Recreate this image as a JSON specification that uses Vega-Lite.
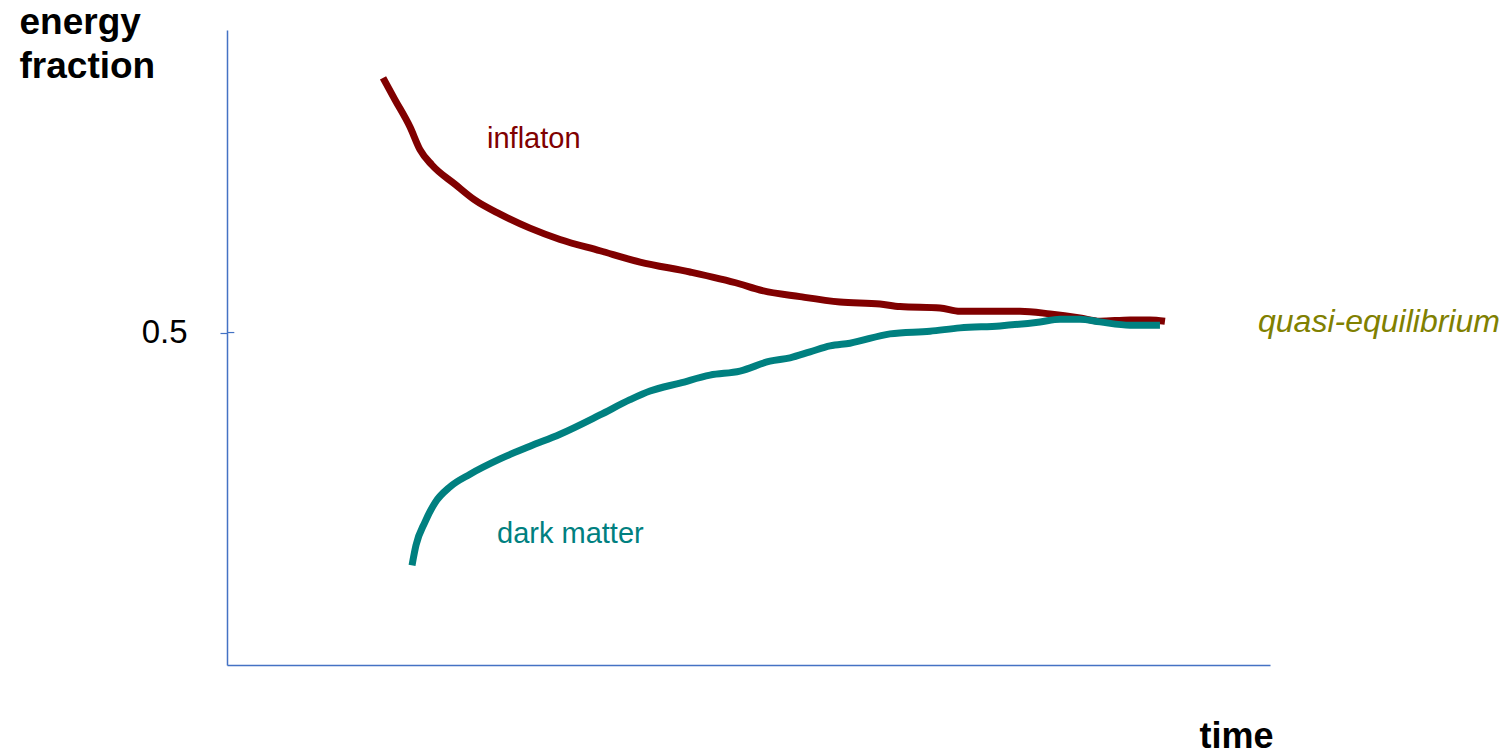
{
  "$schema": "https://vega.github.io/schema/vega-lite/v6.json",
  "width": 1043,
  "height": 635,
  "autosize": {"type": "none"},
  "padding": {"left": 227, "top": 30, "right": 238, "bottom": 90},
  "background": "white",
  "config": {"view": {"stroke": null}, "font": "Liberation Sans"},
  "datasets": {
    "curves": [
      {"series": "inflaton", "t": 1.496, "f": 0.883},
      {"series": "inflaton", "t": 1.611, "f": 0.850},
      {"series": "inflaton", "t": 1.755, "f": 0.809},
      {"series": "inflaton", "t": 1.850, "f": 0.775},
      {"series": "inflaton", "t": 1.965, "f": 0.752},
      {"series": "inflaton", "t": 2.186, "f": 0.723},
      {"series": "inflaton", "t": 2.378, "f": 0.699},
      {"series": "inflaton", "t": 2.618, "f": 0.678},
      {"series": "inflaton", "t": 2.905, "f": 0.657},
      {"series": "inflaton", "t": 3.193, "f": 0.640},
      {"series": "inflaton", "t": 3.576, "f": 0.623},
      {"series": "inflaton", "t": 3.960, "f": 0.606},
      {"series": "inflaton", "t": 4.439, "f": 0.591},
      {"series": "inflaton", "t": 4.918, "f": 0.573},
      {"series": "inflaton", "t": 5.110, "f": 0.564},
      {"series": "inflaton", "t": 5.494, "f": 0.554},
      {"series": "inflaton", "t": 5.877, "f": 0.546},
      {"series": "inflaton", "t": 6.261, "f": 0.543},
      {"series": "inflaton", "t": 6.453, "f": 0.539},
      {"series": "inflaton", "t": 6.836, "f": 0.537},
      {"series": "inflaton", "t": 7.028, "f": 0.532},
      {"series": "inflaton", "t": 7.411, "f": 0.532},
      {"series": "inflaton", "t": 7.603, "f": 0.532},
      {"series": "inflaton", "t": 7.891, "f": 0.528},
      {"series": "inflaton", "t": 8.178, "f": 0.522},
      {"series": "inflaton", "t": 8.370, "f": 0.517},
      {"series": "inflaton", "t": 8.658, "f": 0.519},
      {"series": "inflaton", "t": 8.849, "f": 0.519},
      {"series": "inflaton", "t": 8.993, "f": 0.517},
      {"series": "dark matter", "t": 1.774, "f": 0.150},
      {"series": "dark matter", "t": 1.812, "f": 0.180},
      {"series": "dark matter", "t": 1.898, "f": 0.215},
      {"series": "dark matter", "t": 1.994, "f": 0.244},
      {"series": "dark matter", "t": 2.138, "f": 0.268},
      {"series": "dark matter", "t": 2.330, "f": 0.287},
      {"series": "dark matter", "t": 2.618, "f": 0.310},
      {"series": "dark matter", "t": 2.905, "f": 0.329},
      {"series": "dark matter", "t": 3.193, "f": 0.347},
      {"series": "dark matter", "t": 3.576, "f": 0.376},
      {"series": "dark matter", "t": 3.864, "f": 0.399},
      {"series": "dark matter", "t": 4.056, "f": 0.412},
      {"series": "dark matter", "t": 4.343, "f": 0.424},
      {"series": "dark matter", "t": 4.631, "f": 0.436},
      {"series": "dark matter", "t": 4.918, "f": 0.442},
      {"series": "dark matter", "t": 5.206, "f": 0.457},
      {"series": "dark matter", "t": 5.398, "f": 0.462},
      {"series": "dark matter", "t": 5.590, "f": 0.471},
      {"series": "dark matter", "t": 5.782, "f": 0.480},
      {"series": "dark matter", "t": 5.973, "f": 0.484},
      {"series": "dark matter", "t": 6.357, "f": 0.498},
      {"series": "dark matter", "t": 6.740, "f": 0.502},
      {"series": "dark matter", "t": 7.028, "f": 0.507},
      {"series": "dark matter", "t": 7.411, "f": 0.510},
      {"series": "dark matter", "t": 7.795, "f": 0.516},
      {"series": "dark matter", "t": 7.987, "f": 0.520},
      {"series": "dark matter", "t": 8.178, "f": 0.520},
      {"series": "dark matter", "t": 8.370, "f": 0.516},
      {"series": "dark matter", "t": 8.658, "f": 0.511},
      {"series": "dark matter", "t": 8.945, "f": 0.511}
    ],
    "labels": [
      {"series": "inflaton", "label": "inflaton", "t": 2.493, "f": 0.791},
      {"series": "dark matter", "label": "dark matter", "t": 2.589, "f": 0.197}
    ],
    "note": [
      {"label": "quasi-equilibrium", "t": 9.885, "f": 0.516}
    ],
    "tick": [
      {"t0": 0, "t1": 0.07, "f": 0.5}
    ]
  },
  "layer": [
    {
      "data": {"name": "curves"},
      "mark": {"type": "line", "strokeWidth": 7, "interpolate": "monotone", "strokeCap": "butt"},
      "encoding": {
        "x": {
          "field": "t", "type": "quantitative",
          "scale": {"domain": [0, 10], "nice": false},
          "axis": {
            "title": "time", "titleFont": "Liberation Sans", "titleFontSize": 36, "titleFontWeight": "bold",
            "titleColor": "black", "titleAnchor": "end", "titleAlign": "right", "titleBaseline": "alphabetic",
            "titleX": 1046, "titleY": 82,
            "labels": false, "ticks": false, "grid": false,
            "domainColor": "#4472C4", "domainWidth": 1.5
          }
        },
        "y": {
          "field": "f", "type": "quantitative",
          "scale": {"domain": [0, 0.955], "nice": false},
          "axis": {
            "values": [0.5], "format": ".1f",
            "title": ["energy", "fraction"], "titleFont": "Liberation Sans", "titleFontSize": 37, "titleFontWeight": "bold",
            "titleColor": "black", "titleAngle": 0, "titleAlign": "left", "titleBaseline": "alphabetic",
            "titleX": -208, "titleY": 3, "titleLineHeight": 44,
            "labelFont": "Liberation Sans", "labelFontSize": 33, "labelColor": "black", "labelPadding": 33,
            "tickColor": "#4472C4", "tickSize": 7, "tickWidth": 1.2, "grid": false,
            "domainColor": "#4472C4", "domainWidth": 1.5
          }
        },
        "color": {
          "field": "series", "type": "nominal",
          "scale": {"domain": ["inflaton", "dark matter"], "range": ["#800000", "#008080"]},
          "legend": null
        },
        "detail": {"field": "series"}
      }
    },
    {
      "data": {"name": "tick"},
      "mark": {"type": "rule", "color": "#4472C4", "strokeWidth": 1.2},
      "encoding": {
        "x": {"field": "t0", "type": "quantitative"},
        "x2": {"field": "t1"},
        "y": {"field": "f", "type": "quantitative"}
      }
    },
    {
      "data": {"name": "labels"},
      "mark": {"type": "text", "align": "left", "baseline": "middle", "fontSize": 29, "font": "Liberation Sans"},
      "encoding": {
        "x": {"field": "t", "type": "quantitative"},
        "y": {"field": "f", "type": "quantitative"},
        "text": {"field": "label"},
        "color": {"field": "series", "type": "nominal", "legend": null}
      }
    },
    {
      "data": {"name": "note"},
      "mark": {"type": "text", "align": "left", "baseline": "middle", "fontSize": 32, "fontStyle": "italic", "font": "Liberation Sans", "color": "#808000"},
      "encoding": {
        "x": {"field": "t", "type": "quantitative"},
        "y": {"field": "f", "type": "quantitative"},
        "text": {"field": "label"}
      }
    }
  ]
}
